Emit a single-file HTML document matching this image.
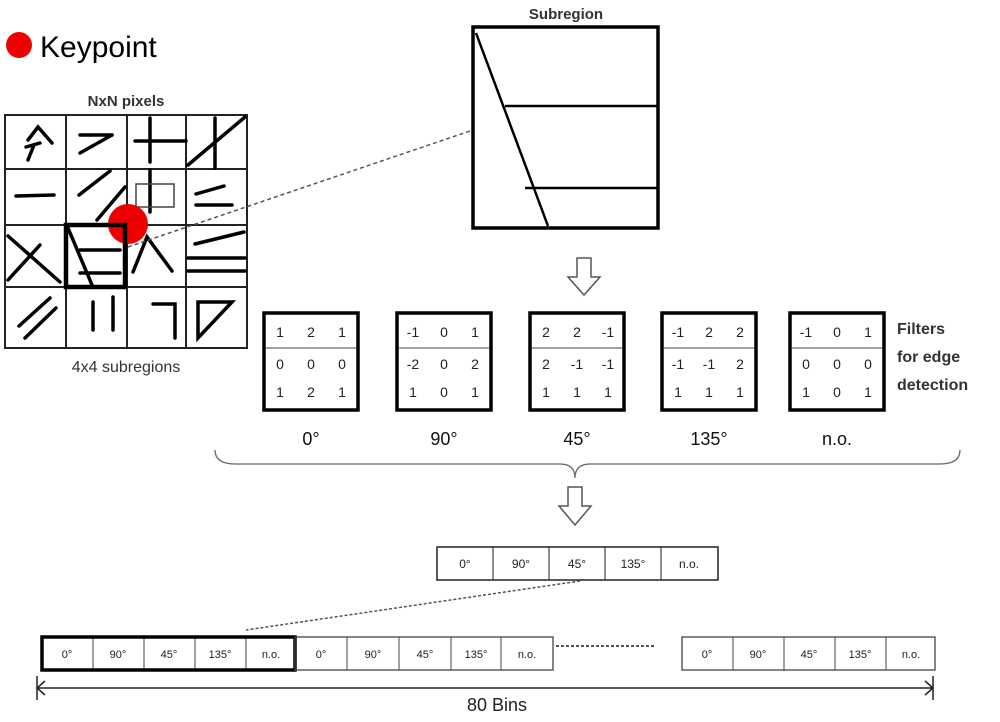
<!DOCTYPE html>
<html><head><style>
body{margin:0;background:#fff;width:1000px;height:717px;overflow:hidden;font-family:"Liberation Sans",sans-serif}
</style></head><body>
<svg width="1000" height="717" viewBox="0 0 1000 717" xmlns="http://www.w3.org/2000/svg" font-family="Liberation Sans, sans-serif">
<circle cx="19" cy="45" r="13" fill="#e00"/>
<text x="40" y="57" font-size="30">Keypoint</text>
<text x="126" y="106" font-size="15" font-weight="bold" text-anchor="middle" fill="#333">NxN pixels</text>
<text x="126" y="372" font-size="16" text-anchor="middle" fill="#333">4x4 subregions</text>
<g stroke="#222" stroke-width="2" fill="none">
<rect x="5" y="115" width="242" height="233"/>
<line x1="66" y1="115" x2="66" y2="348"/><line x1="127" y1="115" x2="127" y2="348"/><line x1="186" y1="115" x2="186" y2="348"/>
<line x1="5" y1="169" x2="247" y2="169"/><line x1="5" y1="225" x2="247" y2="225"/><line x1="5" y1="287" x2="247" y2="287"/>
</g>
<g stroke="#000" stroke-width="3.5" fill="none" stroke-linecap="round">
<path d="M28 140 L38 127 L52 143"/><line x1="26" y1="147" x2="40" y2="143"/><line x1="34" y1="145" x2="28" y2="160"/>
<line x1="80" y1="135" x2="112" y2="135"/><line x1="112" y1="135" x2="80" y2="153"/>
<line x1="135" y1="141" x2="186" y2="141"/><line x1="150" y1="118" x2="150" y2="162"/>
<line x1="188" y1="165" x2="245" y2="117"/><line x1="215" y1="118" x2="215" y2="168"/>
<line x1="16" y1="196" x2="54" y2="195"/>
<line x1="79" y1="195" x2="110" y2="171"/><line x1="97" y1="220" x2="125" y2="187"/>
<line x1="150" y1="170" x2="150" y2="212"/>
<line x1="196" y1="194" x2="224" y2="186"/><line x1="196" y1="205" x2="232" y2="205"/>
<line x1="8" y1="236" x2="60" y2="282"/><line x1="8" y1="280" x2="40" y2="245"/>
<path d="M133 272 L147 237 L172 271"/>
<line x1="195" y1="244" x2="244" y2="232"/><line x1="188" y1="258" x2="245" y2="258"/><line x1="188" y1="271" x2="245" y2="271"/>
<line x1="19" y1="326" x2="50" y2="298"/><line x1="25" y1="338" x2="56" y2="308"/>
<line x1="93" y1="302" x2="93" y2="330"/><line x1="113" y1="297" x2="113" y2="330"/>
<path d="M153 304 L175 304 L175 338"/>
<path d="M198 302 L232 302 L198 338 Z"/>
<line x1="68" y1="228" x2="92" y2="285"/><line x1="80" y1="250" x2="120" y2="250"/><line x1="80" y1="273" x2="120" y2="273"/>
</g>
<rect x="136" y="184" width="38" height="23" fill="none" stroke="#444" stroke-width="1.5"/>
<circle cx="128" cy="224" r="20" fill="#e00"/>
<rect x="66" y="225" width="59" height="62" fill="none" stroke="#000" stroke-width="4.5"/>
<line x1="128" y1="247" x2="473" y2="130" stroke="#555" stroke-width="1.5" stroke-dasharray="4,3"/>
<text x="566" y="19" font-size="15" font-weight="bold" text-anchor="middle" fill="#333">Subregion</text>
<rect x="473" y="27" width="185" height="201" fill="none" stroke="#000" stroke-width="3.5"/>
<g stroke="#000" stroke-width="2.5"><line x1="476" y1="33" x2="548" y2="226"/><line x1="505" y1="106" x2="657" y2="106"/><line x1="525" y1="188" x2="657" y2="188"/></g>
<path d="M577 258 L591 258 L591 277 L600 277 L584 295 L568 277 L577 277 Z" fill="#fff" stroke="#555" stroke-width="1.5"/>
<g font-size="14" text-anchor="middle" fill="#222">
<g transform="translate(264,313)"><rect x="0" y="0" width="94" height="97" fill="none" stroke="#000" stroke-width="3.5"/><line x1="2" y1="35" x2="92" y2="35" stroke="#444"/><text x="16" y="24">1</text><text x="47" y="24">2</text><text x="78" y="24">1</text><text x="16" y="56">0</text><text x="47" y="56">0</text><text x="78" y="56">0</text><text x="16" y="84">1</text><text x="47" y="84">2</text><text x="78" y="84">1</text></g>
<g transform="translate(397,313)"><rect x="0" y="0" width="94" height="97" fill="none" stroke="#000" stroke-width="3.5"/><line x1="2" y1="35" x2="92" y2="35" stroke="#444"/><text x="16" y="24">-1</text><text x="47" y="24">0</text><text x="78" y="24">1</text><text x="16" y="56">-2</text><text x="47" y="56">0</text><text x="78" y="56">2</text><text x="16" y="84">1</text><text x="47" y="84">0</text><text x="78" y="84">1</text></g>
<g transform="translate(530,313)"><rect x="0" y="0" width="94" height="97" fill="none" stroke="#000" stroke-width="3.5"/><line x1="2" y1="35" x2="92" y2="35" stroke="#444"/><text x="16" y="24">2</text><text x="47" y="24">2</text><text x="78" y="24">-1</text><text x="16" y="56">2</text><text x="47" y="56">-1</text><text x="78" y="56">-1</text><text x="16" y="84">1</text><text x="47" y="84">1</text><text x="78" y="84">1</text></g>
<g transform="translate(662,313)"><rect x="0" y="0" width="94" height="97" fill="none" stroke="#000" stroke-width="3.5"/><line x1="2" y1="35" x2="92" y2="35" stroke="#444"/><text x="16" y="24">-1</text><text x="47" y="24">2</text><text x="78" y="24">2</text><text x="16" y="56">-1</text><text x="47" y="56">-1</text><text x="78" y="56">2</text><text x="16" y="84">1</text><text x="47" y="84">1</text><text x="78" y="84">1</text></g>
<g transform="translate(790,313)"><rect x="0" y="0" width="94" height="97" fill="none" stroke="#000" stroke-width="3.5"/><line x1="2" y1="35" x2="92" y2="35" stroke="#444"/><text x="16" y="24">-1</text><text x="47" y="24">0</text><text x="78" y="24">1</text><text x="16" y="56">0</text><text x="47" y="56">0</text><text x="78" y="56">0</text><text x="16" y="84">1</text><text x="47" y="84">0</text><text x="78" y="84">1</text></g>
</g>
<g font-size="16" font-weight="bold" fill="#333"><text x="897" y="334">Filters</text><text x="897" y="362">for edge</text><text x="897" y="390">detection</text></g>
<g font-size="18" text-anchor="middle" fill="#111"><text x="311" y="445">0°</text><text x="444" y="445">90°</text><text x="577" y="445">45°</text><text x="709" y="445">135°</text><text x="837" y="445">n.o.</text></g>
<path d="M215 450 Q215 464 235 464 L560 464 Q575 464 575 478 Q575 464 590 464 L940 464 Q960 464 960 450" fill="none" stroke="#666" stroke-width="1.3"/>
<path d="M568 487 L582 487 L582 506 L591 506 L575 525 L559 506 L568 506 Z" fill="#fff" stroke="#555" stroke-width="1.5"/>
<g font-size="12" text-anchor="middle" fill="#222" stroke="#222">
<g transform="translate(437,547)"><rect width="281" height="33" fill="none" stroke-width="1.5"/><line x1="56" y1="0" x2="56" y2="33"/><line x1="112" y1="0" x2="112" y2="33"/><line x1="168" y1="0" x2="168" y2="33"/><line x1="224" y1="0" x2="224" y2="33"/><g stroke="none"><text x="28" y="21">0°</text><text x="84" y="21">90°</text><text x="140" y="21">45°</text><text x="196" y="21">135°</text><text x="252" y="21">n.o.</text></g></g>
</g>
<line x1="580" y1="581" x2="246" y2="630" stroke="#555" stroke-width="1.5" stroke-dasharray="3,2"/>
<g font-size="11" text-anchor="middle" fill="#222" stroke="#444">
<g transform="translate(42,637)"><rect width="253" height="33" fill="none" stroke-width="1.3"/><line x1="51" y1="0" x2="51" y2="33"/><line x1="102" y1="0" x2="102" y2="33"/><line x1="153" y1="0" x2="153" y2="33"/><line x1="204" y1="0" x2="204" y2="33"/><g stroke="none"><text x="25" y="21">0°</text><text x="76" y="21">90°</text><text x="127" y="21">45°</text><text x="178" y="21">135°</text><text x="229" y="21">n.o.</text></g></g>
<rect x="42" y="637" width="253" height="33" fill="none" stroke="#000" stroke-width="3.5"/>
<g transform="translate(295,637)"><rect width="258" height="33" fill="none" stroke-width="1.3"/><line x1="52" y1="0" x2="52" y2="33"/><line x1="104" y1="0" x2="104" y2="33"/><line x1="156" y1="0" x2="156" y2="33"/><line x1="206" y1="0" x2="206" y2="33"/><g stroke="none"><text x="26" y="21">0°</text><text x="78" y="21">90°</text><text x="130" y="21">45°</text><text x="181" y="21">135°</text><text x="232" y="21">n.o.</text></g></g>
<g transform="translate(682,637)"><rect width="253" height="33" fill="none" stroke-width="1.3"/><line x1="51" y1="0" x2="51" y2="33"/><line x1="102" y1="0" x2="102" y2="33"/><line x1="153" y1="0" x2="153" y2="33"/><line x1="204" y1="0" x2="204" y2="33"/><g stroke="none"><text x="25" y="21">0°</text><text x="76" y="21">90°</text><text x="127" y="21">45°</text><text x="178" y="21">135°</text><text x="229" y="21">n.o.</text></g></g>
</g>
<line x1="556" y1="646" x2="655" y2="646" stroke="#555" stroke-width="2" stroke-dasharray="3,2"/>
<g stroke="#222" stroke-width="1.5" fill="none"><line x1="37" y1="676" x2="37" y2="700"/><line x1="933" y1="676" x2="933" y2="700"/><line x1="37" y1="688" x2="933" y2="688"/><path d="M45 681 L37 688 L45 695"/><path d="M925 681 L933 688 L925 695"/></g>
<text x="497" y="711" font-size="18" text-anchor="middle" fill="#222">80 Bins</text>
</svg>
</body></html>
